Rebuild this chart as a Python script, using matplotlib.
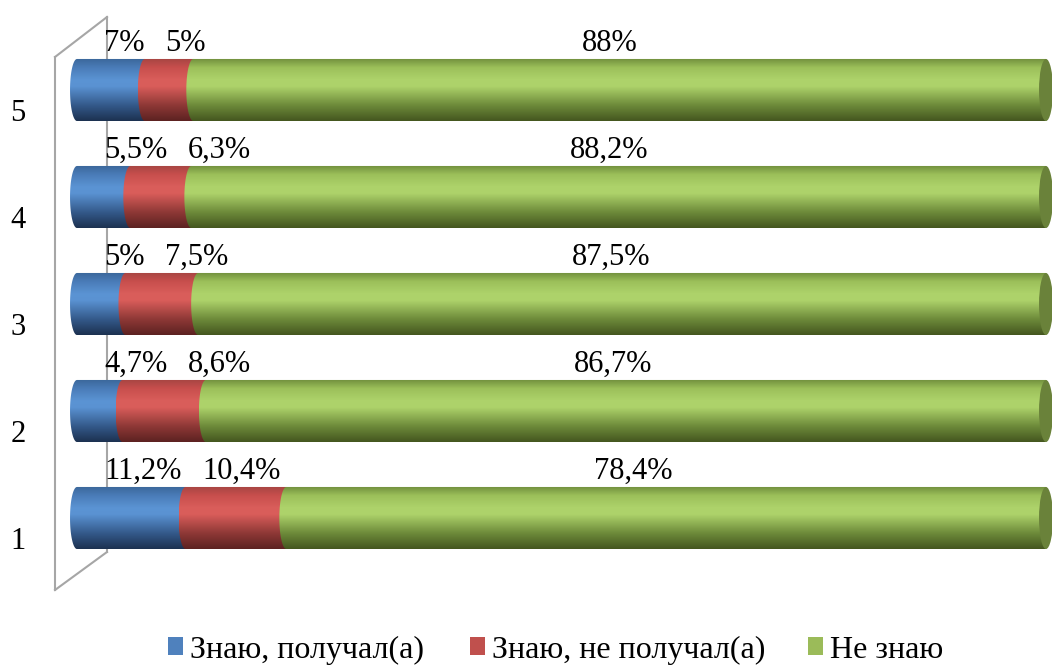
import numpy as np
import matplotlib
matplotlib.use("Agg")
import matplotlib.pyplot as plt
from matplotlib.path import Path
from matplotlib.patches import PathPatch, Ellipse, Patch
from matplotlib.lines import Line2D
from matplotlib.colors import LinearSegmentedColormap
from matplotlib.transforms import ScaledTranslation

# data
categories = ['1', '2', '3', '4', '5']
know_got = [11.2, 4.7, 5.0, 5.5, 7.0]
know_not_got = [10.4, 8.6, 7.5, 6.3, 5.0]
dont_know = [78.4, 86.7, 87.5, 88.2, 88.0]
series_names = ['Знаю, получал(а)', 'Знаю, не получал(а)', 'Не знаю']

plt.rcParams['font.family'] = ['Liberation Serif', 'DejaVu Serif']

# gradients bottom -> top
grads = [
    ['#1c3150', '#34598a', '#5a92d2', '#5b94d4', '#4a7cb8', '#3a6699'],
    ['#5c2221', '#8e3836', '#d95d5a', '#da5e5b', '#c84f4d', '#a54542'],
    ['#44561f', '#6d8a3a', '#add26a', '#aed36b', '#9cc05a', '#6f8d3c'],
]
stops = [0.0, 0.25, 0.55, 0.65, 0.85, 1.0]
legend_colors = ['#4f81bd', '#c0504d', '#9bbb59']
face_color = '#6a823a'


def pct(v):
    return ('%g%%' % v).replace('.', ',')


W, H = 1052, 665
fig = plt.figure(figsize=(W / 100, H / 100), dpi=100)
px = 9.69  # pixels per percent
ax = fig.add_axes([45 / W, 0, 1 - 45 / W, 1])
ax.set_facecolor('none')
for s in ax.spines.values():
    s.set_visible(False)

bh = 0.58   # bar height in category units
a = 0.72    # half width of the end ellipse, in percent units


def segment(x0, x1, yc, cmap, z):
    t = np.linspace(-np.pi / 2, np.pi / 2, 40)
    ex = x0 - a * np.cos(t)
    ey = yc + bh / 2 * np.sin(t)
    verts = [(x0, yc + bh / 2), (x1, yc + bh / 2), (x1, yc - bh / 2)]
    verts += list(zip(ex, ey))
    verts.append((x0, yc + bh / 2))
    patch = PathPatch(Path(verts, closed=True), transform=ax.transData,
                      facecolor='none', edgecolor='none')
    ax.add_patch(patch)
    g = np.linspace(0, 1, 256).reshape(-1, 1)
    im = ax.imshow(g, extent=(x0 - a, x1, yc - bh / 2, yc + bh / 2),
                   origin='lower', aspect='auto', cmap=cmap, zorder=z,
                   interpolation='bilinear')
    im.set_clip_path(patch)


cmaps = [LinearSegmentedColormap.from_list('c%d' % i, list(zip(stops, c)))
         for i, c in enumerate(grads)]

ypos = np.arange(1, len(categories) + 1)
for i, y in enumerate(ypos):
    vals = [know_got[i], know_not_got[i], dont_know[i]]
    left = 0
    for k, v in enumerate(vals):
        segment(left, left + v, y, cmaps[k], 3 + k)
        left += v
    ax.add_patch(Ellipse((left, y), 2 * a, bh, facecolor=face_color,
                         edgecolor='none', zorder=6))

    # labels above the bar
    top = y + bh / 2
    tb = ax.annotate(pct(know_got[i]), xy=(2.8, top), xytext=(0, 6),
                     textcoords='offset points', ha='left', va='baseline',
                     fontsize=22, zorder=8)
    fig.canvas.draw()
    ax.annotate(pct(know_not_got[i]), xy=(1, 0), xycoords=tb,
                xytext=(15, 0), textcoords='offset points', ha='left',
                va='bottom', fontsize=22, zorder=8)
    gc = know_got[i] + know_not_got[i] + dont_know[i] / 2
    ax.annotate(pct(dont_know[i]), xy=(27 + gc / 2, top), xytext=(0, 6),
                textcoords='offset points', ha='center', va='baseline',
                fontsize=22, zorder=8)

# back wall of the 3D chart (pixel outline)
wall = [((55, 57), (107, 17)), ((55, 57), (55, 590)),
        ((107, 17), (107, 552)), ((107, 552), (55, 590))]
for (xa, ya), (xb, yb) in wall:
    ax.add_line(Line2D([xa / W, xb / W], [1 - ya / H, 1 - yb / H],
                       transform=fig.transFigure, color='#a6a6a6', lw=1.5,
                       zorder=1, clip_on=False))

ax.set_xlim(-(77 - 45) / px, (W - 77) / px)
ax.set_ylim(1 - 147 / 107, 1 + 518 / 107)
ax.set_xticks([])
ax.set_yticks(ypos)
ax.set_yticklabels(categories, fontsize=22)
ax.tick_params(axis='y', length=0, pad=14)
off = ScaledTranslation(0, -0.20, fig.dpi_scale_trans)
for lab in ax.get_yticklabels():
    lab.set_transform(lab.get_transform() + off)

# legend
lx = [168, 470, 808]
for k in range(3):
    h = Patch(facecolor=legend_colors[k], edgecolor='none')
    fig.legend(handles=[h], labels=[series_names[k]], loc='center left',
               bbox_to_anchor=(lx[k] / W, 1 - 650 / H), frameon=False,
               fontsize=23, handlelength=0.47, handleheight=0.47,
               handletextpad=0.22, borderpad=0, borderaxespad=0)

fig.savefig('out.png', dpi=100)
